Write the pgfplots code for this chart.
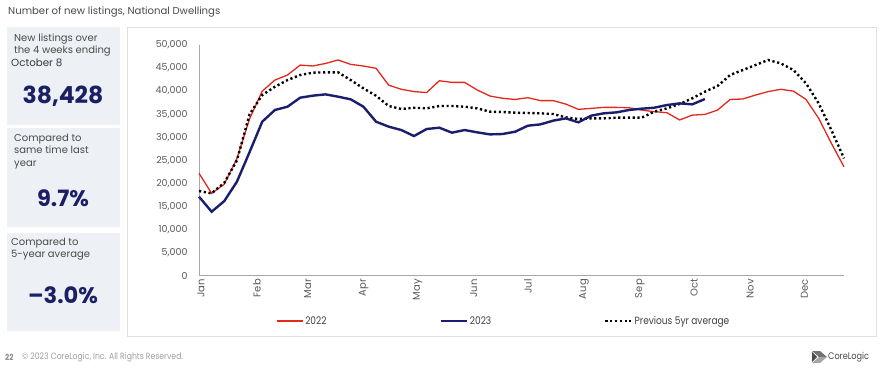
\documentclass[border=0pt]{standalone}
\usepackage{fontspec}
\setmainfont{Poppins}
\newfontfamily\narrowfont[FakeStretch=0.86]{Poppins}
\usepackage{pgfplots}
\pgfplotsset{compat=1.18}
\definecolor{red22}{HTML}{E2291C}
\definecolor{navy23}{HTML}{1B1E6C}
\definecolor{boxfill}{HTML}{EDF1F5}
\definecolor{txtgray}{HTML}{4A4A4A}
\definecolor{tickgray}{HTML}{595959}
\definecolor{bignum}{HTML}{1A1F66}
\begin{document}
\begin{tikzpicture}[x=1pt,y=1pt]
\path[use as bounding box] (0,0) rectangle (888,376);
% title
\node[anchor=west, inner sep=0pt, font=\fontsize{10.1}{12}\selectfont, text=txtgray] at (8,364) {Number of new listings, National Dwellings};
% left boxes
\fill[boxfill] (7,251) rectangle (120,349);
\fill[boxfill] (7,149) rectangle (120,248);
\fill[boxfill] (7,45) rectangle (120,143);
% panel
\draw[draw=black!12, fill=white] (127,40) rectangle (876,349);
% box 1
\node[anchor=north west, inner sep=0pt, align=left, font=\fontsize{10}{12}\selectfont, text=txtgray] at (14,342) {New listings over\\the 4 weeks ending};
\node[anchor=north west, inner sep=0pt, font=\fontsize{10.3}{12}\selectfont, text=black!78] at (11,317) {October 8};
\node[inner sep=0pt, font=\fontsize{23.5}{26}\bfseries, text=bignum] at (63,280) {38,428};
% box 2
\node[anchor=north west, inner sep=0pt, align=left, font=\fontsize{10}{12.3}\selectfont, text=txtgray] at (14,242) {Compared to\\same time last\\year};
\node[inner sep=0pt, font=\fontsize{22.5}{25}\bfseries, text=bignum] at (63,178) {9.7\%};
% box 3
\node[anchor=north west, inner sep=0pt, align=left, font=\fontsize{10}{12.3}\selectfont, text=txtgray] at (11,138) {Compared to\\5-year average};
\node[inner sep=0pt, font=\fontsize{22.5}{25}\bfseries, text=bignum] at (63,81) {–3.0\%};
% footer
\node[anchor=west, inner sep=0pt, font=\narrowfont\fontsize{9}{10}\selectfont, text=black!38] at (22,19) {\textcopyright{} 2023 CoreLogic, Inc. All Rights Reserved.};
\node[anchor=west, inner sep=0pt, font=\narrowfont\fontsize{8.5}{10}\bfseries, text=black!45] at (5,19) {22};
\fill[black!55] (812,25) -- (820,25) -- (827,19) -- (819,19) -- cycle;
\fill[black!35] (812,13) -- (820,13) -- (827,19) -- (819,19) -- cycle;
\fill[black!70] (812,24) -- (817,19) -- (812,14) -- cycle;
\node[anchor=west, inner sep=0pt, font=\narrowfont\fontsize{9.5}{10}\selectfont, text=black!72] at (828,19) {CoreLogic};
\begin{axis}[
  at={(199pt,100.3pt)}, anchor=south west,
  scale only axis, width=645pt, height=230.7pt,
  xmin=0, xmax=51, ymin=0, ymax=50000,
  axis lines=left,
  axis line style={-, draw=black!35, line width=0.8pt},
  major tick length=0pt,
  ytick={0,5000,...,50000},
  scaled y ticks=false,
  /pgf/number format/1000 sep={,},
  /pgf/number format/assume math mode=true,
  yticklabel style={font=\fontsize{9.5}{10}\selectfont, text=tickgray, xshift=-8pt},
  xtick={0,4.43,8.43,12.86,17.14,21.57,25.86,30.29,34.71,39,43.43,47.71},
  xticklabels={Jan,Feb,Mar,Apr,May,Jun,Jul,Aug,Sep,Oct,Nov,Dec},
  xticklabel style={rotate=90, anchor=east, font=\fontsize{10}{11}\selectfont, text=tickgray, yshift=-2pt},
  legend columns=3,
  legend style={at={(0.119,-0.196)}, anchor=west, draw=none, fill=none, inner sep=0pt,
     font=\narrowfont\fontsize{10.5}{11}\selectfont, text=black!75,
     /tikz/every even column/.append style={column sep=111pt}},
  legend image code/.code={\draw[#1] (0pt,0pt) -- (26pt,0pt);},
  clip=false,
]
\addlegendimage{red22, line width=1.3pt}
\addlegendentry{2022}
\addlegendimage{navy23, line width=2.4pt}
\addlegendentry{2023}
\addlegendimage{black, line width=2.4pt, dash pattern=on 2.2pt off 2.6pt}
\addlegendentry{Previous 5yr average}
\addplot[forget plot, red22, line width=1.3pt] coordinates {
(0,22200) (1,17850) (2,19850) (3,25400) (4,34000) (5,40000) (6,42400) (7,43500)
(8,45650) (9,45450) (10,46000) (11,46750) (12,45800) (13,45450) (14,44950) (15,41300)
(16,40400) (17,39900) (18,39700) (19,42250) (20,41900) (21,41900) (22,40250) (23,38950)
(24,38450) (25,38200) (26,38580) (27,37950) (28,37950) (29,37200) (30,36050) (31,36270)
(32,36480) (33,36480) (34,36400) (35,35900) (36,35550) (37,35330) (38,33750) (39,34800)
(40,34950) (41,35900) (42,38200) (43,38300) (44,39150) (45,39900) (46,40400) (47,40000)
(48,38200) (49,34100) (50,28700) (51,23600)};
\addplot[forget plot, black, line width=2.4pt, dash pattern=on 2.2pt off 2.6pt] coordinates {
(0,18350) (1,17850) (2,20150) (3,25000) (4,35000) (5,39150) (6,40950) (7,42400)
(8,43500) (9,44000) (10,44070) (11,44070) (12,42400) (13,40600) (14,39000) (15,36780)
(16,36130) (17,36400) (18,36270) (19,36780) (20,36780) (21,36630) (22,36270) (23,35550)
(24,35480) (25,35330) (26,35260) (27,35190) (28,35040) (29,34320) (30,33960) (31,34100)
(32,34100) (33,34250) (34,34250) (35,34250) (36,35550) (37,36270) (38,37210) (39,38440)
(40,39880) (41,41110) (42,43500) (43,44580) (44,45660) (45,46750) (46,46020) (47,44580)
(48,41690) (49,37350) (50,31570) (51,25430)};
\addplot[forget plot, navy23, line width=2.4pt] coordinates {
(0,17120) (1,13870) (2,16180) (3,20380) (4,26800) (5,33380) (6,35910) (7,36630)
(8,38580) (9,39020) (10,39300) (11,38800) (12,38220) (13,36630) (14,33380) (15,32300)
(16,31570) (17,30270) (18,31790) (19,32080) (20,31000) (21,31570) (22,31070) (23,30630)
(24,30710) (25,31210) (26,32510) (27,32800) (28,33600) (29,34100) (30,33240) (31,34680)
(32,35190) (33,35400) (34,35910) (35,36200) (36,36410) (37,36990) (38,37350) (39,37140)
(40,38290)};
\end{axis}
\end{tikzpicture}
\end{document}
